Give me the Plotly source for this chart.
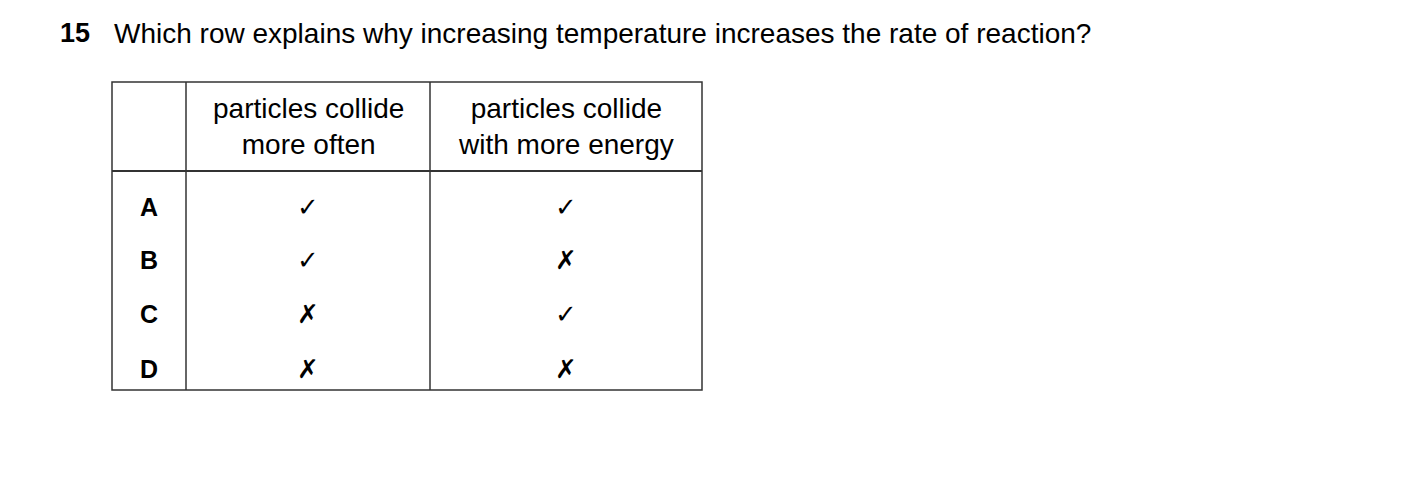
import plotly.graph_objects as go

question_number = "15"
question = "Which row explains why increasing temperature increases the rate of reaction?"
headers = ["particles collide<br>more often", "particles collide<br>with more energy"]
row_labels = ["A", "B", "C", "D"]
col1 = [True, True, False, False]
col2 = [True, False, True, False]

W, H = 1403, 484
OFF = 8  # compensate page body margin
fig = go.Figure()
fig.update_layout(width=W - 2 * OFF, height=H - 2 * OFF, margin=dict(l=0, r=0, t=0, b=0),
                  paper_bgcolor="white", plot_bgcolor="white", showlegend=False,
                  xaxis=dict(range=[OFF, W - OFF], visible=False, fixedrange=True),
                  yaxis=dict(range=[H - OFF, OFF], visible=False, fixedrange=True))
F = "Liberation Sans, Arial, sans-serif"
ann = []
ann.append(dict(x=58, y=33, text="<b>" + question_number + "</b>", xanchor="left", yanchor="middle",
                showarrow=False, font=dict(family=F, size=27, color="black")))
ann.append(dict(x=112, y=33, text=question, xanchor="left", yanchor="middle",
                showarrow=False, font=dict(family=F, size=28, color="black")))

xl, xa, xb, xr = 112, 186, 430, 702
yt, yh, yb = 82, 171, 390
row_y = [207, 260, 314, 369]
shapes = []
line = dict(color="#333", width=1.5)
shapes.append(dict(type="rect", x0=xl, x1=xr, y0=yt, y1=yb, line=line))
for x in (xa, xb):
    shapes.append(dict(type="line", x0=x, x1=x, y0=yt, y1=yb, line=line))
shapes.append(dict(type="line", x0=xl, x1=xr, y0=yh, y1=yh, line=dict(color="#333", width=2)))

for i, h in enumerate(headers):
    cx = (xa + xb) / 2 if i == 0 else (xb + xr) / 2
    ann.append(dict(x=cx, y=(yt + yh) / 2, text=h, showarrow=False, xanchor="center", yanchor="middle",
                    font=dict(family=F, size=28, color="black")))
for lab, a, b, y in zip(row_labels, col1, col2, row_y):
    ann.append(dict(x=(xl + xa) / 2, y=y, text="<b>" + lab + "</b>", showarrow=False,
                    font=dict(family=F, size=25, color="black")))
    for v, cx in ((a, (xa + xb) / 2), (b, (xb + xr) / 2)):
        ann.append(dict(x=cx, y=y, text="✓" if v else "✗", showarrow=False,
                        font=dict(family="DejaVu Sans", size=26, color="black")))
fig.update_layout(annotations=ann, shapes=shapes)
fig.write_html("out.html")
